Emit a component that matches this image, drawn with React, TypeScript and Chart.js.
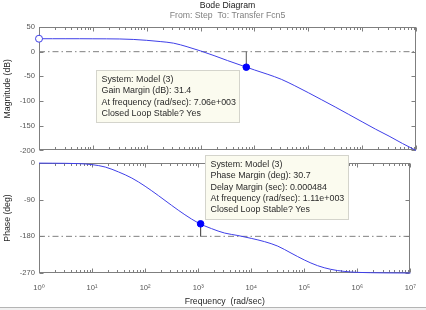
import React, { useEffect, useRef } from 'react';
import { Chart, registerables } from 'chart.js';

Chart.register(...registerables);

// ---------- data ----------
const freq = [
  1, 1.78, 3.16, 5.62, 10, 17.8, 31.6, 56.2, 100, 178, 316, 562, 1000, 1780, 3160, 5620,
  1e4, 1.78e4, 3.16e4, 5.62e4, 1e5, 1.78e5, 3.16e5, 5.62e5, 1e6, 1.78e6, 3.16e6, 5.62e6, 1e7,
];
const magnitudeDb = [
  26.2, 26.2, 26.2, 26.2, 26.1, 26.0, 25.7, 24.8, 23.0, 20.5, 17.2, 10.0, 1.5, -8, -18, -27.5,
  -37, -46, -56, -69, -83, -97.5, -112, -127, -142, -157, -171, -186, -200,
];
const phaseDeg = [
  -0.3, -0.5, -0.8, -1.5, -4, -10, -22, -37, -57, -80, -104, -127, -147, -161, -172, -178,
  -185, -193, -204, -221, -238, -252, -261, -266, -268.5, -269.3, -269.7, -269.9, -270,
];

const gainMarginFreq = 7060;
const gainMarginPointDb = -31.4;
const phaseMarginFreq = 1110;
const phaseMarginPointDeg = -149.3;
const gainRefDb = 0;
const phaseRefDeg = -180;

const magTicks = [50, 0, -50, -100, -150, -200];
const phaseTicks = [0, -90, -180, -270];
const majorTicks = [1, 10, 100, 1e3, 1e4, 1e5, 1e6, 1e7];
const majorLabels = ['10⁰', '10¹', '10²', '10³', '10⁴', '10⁵', '10⁶', '10⁷'];
const minorMultipliers = [1, 2, 3, 4, 5, 6, 7, 8, 9];

const gainTip = [
  'System: Model (3)',
  'Gain Margin (dB): 31.4',
  'At frequency (rad/sec): 7.06e+003',
  'Closed Loop Stable? Yes',
];
const phaseTip = [
  'System: Model (3)',
  'Phase Margin (deg): 30.7',
  'Delay Margin (sec): 0.000484',
  'At frequency (rad/sec): 1.11e+003',
  'Closed Loop Stable? Yes',
];

// ---------- styles ----------
const FAMILY = '"Liberation Sans", Arial, "DejaVu Sans", sans-serif';
const CURVE = '#3f3fe8';
const MARK = '#0000ff';
const AXIS = '#7f7f7f';
const TICK_TXT = '#555555';
const LABEL_TXT = '#262626';

const xTickValues: number[] = [];
majorTicks.slice(0, -1).forEach((d) => minorMultipliers.forEach((m) => xTickValues.push(d * m)));
xTickValues.push(majorTicks[majorTicks.length - 1]);

const axesBoxPlugin = {
  id: 'axesBox',
  beforeDatasetsDraw(chart: any) {
    const { ctx, chartArea } = chart;
    const xs = chart.scales.x;
    const ys = chart.scales.y;
    const L = Math.round(chartArea.left) + 0.5;
    const R = Math.round(chartArea.right) - 0.5;
    const T = Math.round(chartArea.top) + 0.5;
    const B = Math.round(chartArea.bottom) - 0.5;
    ctx.save();
    ctx.strokeStyle = AXIS;
    ctx.lineWidth = 1;
    ctx.strokeRect(L, T, R - L, B - T);
    ctx.beginPath();
    xTickValues.forEach((v) => {
      const x = Math.round(xs.getPixelForValue(v)) + 0.5;
      const len = majorTicks.includes(v) ? 4 : 2.5;
      ctx.moveTo(x, B);
      ctx.lineTo(x, B - len);
      ctx.moveTo(x, T);
      ctx.lineTo(x, T + len);
    });
    ys.ticks.forEach((t: any) => {
      const y = Math.round(ys.getPixelForValue(t.value)) + 0.5;
      ctx.moveTo(L, y);
      ctx.lineTo(L + 4, y);
      ctx.moveTo(R, y);
      ctx.lineTo(R - 4, y);
    });
    ctx.stroke();
    ctx.restore();
  },
};

function drawTip(chart: any, f: number, v: number, lines: string[], corner: 'topRight' | 'bottomLeft') {
  const ctx = chart.ctx;
  const px = chart.scales.x.getPixelForValue(f);
  const py = chart.scales.y.getPixelForValue(v);
  ctx.save();
  ctx.font = `8.9px ${FAMILY}`;
  const w = Math.round(Math.max(...lines.map((l) => ctx.measureText(l).width)) + 10);
  const lh = 11.3;
  const h = Math.round(lines.length * lh + 8);
  let left: number;
  let top: number;
  if (corner === 'topRight') {
    left = Math.round(px - 6 - w);
    top = Math.round(py + 3);
  } else {
    left = Math.round(px + 4);
    top = Math.round(py - 4 - h);
  }
  ctx.fillStyle = '#fbfbef';
  ctx.fillRect(left, top, w, h);
  ctx.strokeStyle = '#d4d4cc';
  ctx.lineWidth = 1;
  ctx.strokeRect(left + 0.5, top + 0.5, w - 1, h - 1);
  ctx.fillStyle = '#2a2a2a';
  ctx.textAlign = 'left';
  ctx.textBaseline = 'middle';
  lines.forEach((l, i) => ctx.fillText(l, left + 5.5, top + 4 + lh / 2 + i * lh));
  ctx.restore();
}

const xy = (xsArr: number[], ysArr: number[]) => xsArr.map((x, i) => ({ x, y: ysArr[i] }));

export default function App() {
  const magRef = useRef<HTMLCanvasElement>(null);
  const phRef = useRef<HTMLCanvasElement>(null);

  useEffect(() => {
    Chart.defaults.font.family = FAMILY;
    const yCommon = (ticks: number[], title: string) => ({
      min: ticks[ticks.length - 1],
      max: ticks[0],
      afterBuildTicks: (s: any) => {
        s.ticks = ticks.map((value) => ({ value }));
      },
      afterFit: (s: any) => {
        s.width = 39;
      },
      grid: { display: false, drawTicks: false },
      border: { display: false },
      ticks: { color: TICK_TXT, font: { size: 7.6, family: FAMILY }, padding: 4 },
      title: {
        display: true,
        text: title,
        color: LABEL_TXT,
        font: { size: 8.7, family: FAMILY },
        padding: { top: 2.3, bottom: 0 },
      },
    });

    const refLine = (y: number) => ({
      data: [
        { x: freq[0], y },
        { x: freq[freq.length - 1], y },
      ],
      borderColor: '#808080',
      borderWidth: 1,
      borderDash: [6, 3, 1.5, 3],
      pointRadius: 0,
      order: 4,
    });
    const stem = (f: number, from: number, to: number) => ({
      data: [
        { x: f, y: from },
        { x: f, y: to },
      ],
      borderColor: '#555555',
      borderWidth: 1,
      pointRadius: 0,
      order: 2,
    });
    const marker = (f: number, v: number) => ({
      data: [{ x: f, y: v }],
      showLine: false,
      pointRadius: 3.3,
      pointBackgroundColor: MARK,
      pointBorderColor: MARK,
      pointBorderWidth: 1,
      order: 0,
    });
    const curve = (vals: number[]) => ({
      data: xy(freq, vals),
      borderColor: CURVE,
      borderWidth: 1,
      pointRadius: 0,
      cubicInterpolationMode: 'monotone' as const,
      clip: 3,
      order: 3,
    });

    const magChart = new Chart(magRef.current!, {
      type: 'line',
      data: {
        datasets: [
          refLine(gainRefDb),
          curve(magnitudeDb),
          stem(gainMarginFreq, gainMarginPointDb, gainRefDb),
          marker(gainMarginFreq, gainMarginPointDb),
          {
            data: [{ x: freq[0], y: magnitudeDb[0] }],
            showLine: false,
            pointRadius: 3.5,
            pointBackgroundColor: '#ffffff',
            pointBorderColor: CURVE,
            pointBorderWidth: 1,
            clip: false,
            order: 1,
          } as any,
        ],
      },
      options: {
        responsive: false,
        animation: false,
        layout: { padding: { left: 0, right: 10, top: 0, bottom: 6 } },
        plugins: {
          legend: { display: false },
          tooltip: { enabled: false },
          title: {
            display: true,
            text: 'Bode Diagram',
            fullSize: false,
            color: '#1a1a1a',
            font: { size: 8.7, weight: 'normal', family: FAMILY },
            padding: { top: 0, bottom: 0 },
          },
          subtitle: {
            display: true,
            text: 'From: Step  To: Transfer Fcn5',
            fullSize: false,
            color: '#808080',
            font: { size: 8.7, weight: 'normal', family: FAMILY },
            padding: { top: 0.4, bottom: 5.7 },
          },
        },
        scales: {
          x: { type: 'logarithmic', min: majorTicks[0], max: majorTicks[majorTicks.length - 1], display: false },
          y: yCommon(magTicks, 'Magnitude (dB)') as any,
        },
      },
      plugins: [
        axesBoxPlugin,
        {
          id: 'gainTip',
          afterDraw: (c: any) => drawTip(c, gainMarginFreq, gainMarginPointDb, gainTip, 'topRight'),
        },
      ],
    } as any);

    const phChart = new Chart(phRef.current!, {
      type: 'line',
      data: {
        datasets: [
          refLine(phaseRefDeg),
          curve(phaseDeg),
          stem(phaseMarginFreq, phaseMarginPointDeg, phaseRefDeg),
          marker(phaseMarginFreq, phaseMarginPointDeg),
        ],
      },
      options: {
        responsive: false,
        animation: false,
        layout: { padding: { left: 0, right: 10, top: 9, bottom: 0 } },
        plugins: { legend: { display: false }, tooltip: { enabled: false } },
        scales: {
          x: {
            type: 'logarithmic',
            min: majorTicks[0],
            max: majorTicks[majorTicks.length - 1],
            afterBuildTicks: (s: any) => {
              s.ticks = majorTicks.map((value) => ({ value, major: true }));
            },
            afterFit: (s: any) => {
              s.height = 37;
            },
            grid: { display: false, drawTicks: false },
            border: { display: false },
            ticks: {
              autoSkip: false,
              maxRotation: 0,
              color: TICK_TXT,
              font: { size: 7.6, family: FAMILY },
              padding: 10,
              callback: (value: any) => {
                const i = majorTicks.indexOf(Number(value));
                return i >= 0 ? majorLabels[i] : '';
              },
            },
            title: {
              display: true,
              text: 'Frequency  (rad/sec)',
              color: LABEL_TXT,
              font: { size: 8.7, family: FAMILY },
              padding: { top: 0, bottom: 2.8 },
            },
          },
          y: yCommon(phaseTicks, 'Phase (deg)') as any,
        },
      },
      plugins: [
        axesBoxPlugin,
        {
          id: 'phaseTip',
          afterDraw: (c: any) => drawTip(c, phaseMarginFreq, phaseMarginPointDeg, phaseTip, 'bottomLeft'),
        },
      ],
    } as any);

    return () => {
      magChart.destroy();
      phChart.destroy();
    };
  }, []);

  return (
    <div
      style={{
        position: 'fixed',
        left: 0,
        top: 0,
        width: 426,
        height: 310,
        background: '#ffffff',
        overflow: 'hidden',
      }}
    >
      <canvas
        ref={magRef}
        width={426}
        height={159}
        style={{ position: 'absolute', left: 0, top: 0, width: 426, height: 159 }}
      />
      <canvas
        ref={phRef}
        width={426}
        height={156}
        style={{ position: 'absolute', left: 0, top: 154, width: 426, height: 156 }}
      />
      <div
        style={{
          position: 'absolute',
          left: 0,
          top: 307,
          width: 426,
          height: 3,
          borderTop: '1px solid #b4b4b4',
          background: '#f0f0f0',
          boxSizing: 'border-box',
        }}
      />
    </div>
  );
}
